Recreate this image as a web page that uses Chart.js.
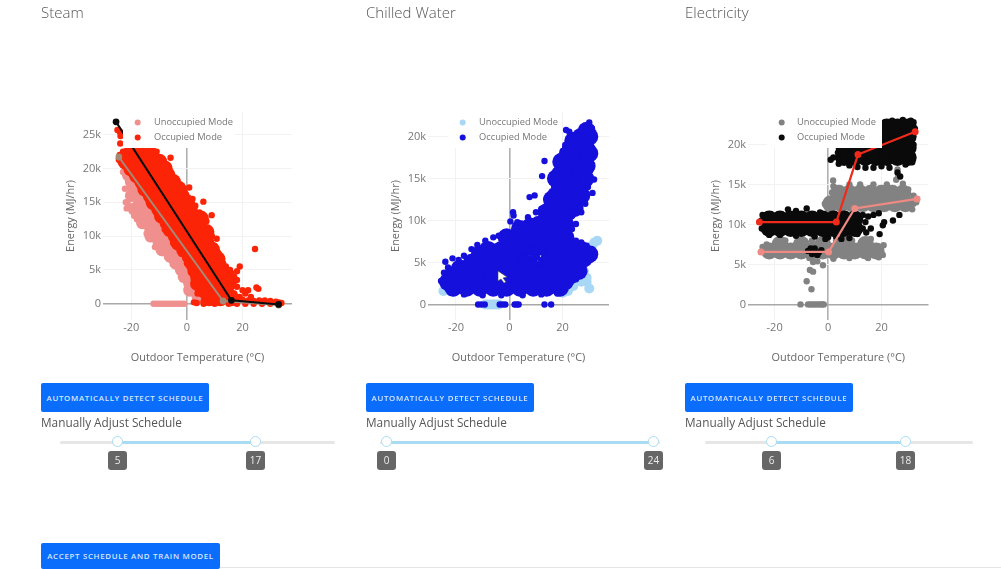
<!DOCTYPE html>
<html><head><meta charset="utf-8">
<script src="https://cdn.jsdelivr.net/npm/chart.js@4"></script>
<style>
html,body{margin:0;padding:0;background:#fff;width:1001px;height:569px;overflow:hidden;font-family:"Open Sans",sans-serif}
#page{position:absolute;left:0;top:0;width:1001px;height:569px;filter:blur(.7px)}
canvas{position:absolute}
.t{position:absolute;color:#666;white-space:nowrap}
.title{font-size:15px;top:2px;font-weight:300;color:#555}
.sub{font-size:11.8px;top:414px;color:#555}
.btn{position:absolute;background:#0a6dfb;color:#d6e6ff;font-size:7.9px;letter-spacing:.68px;text-transform:uppercase;display:flex;align-items:center;justify-content:center;border-radius:2px;white-space:nowrap;font-weight:600}
.track{position:absolute;top:441px;height:3px;background:#e6e6e6;border-radius:2px}
.fill{position:absolute;top:441px;height:3px;background:#a9dcf2}
.knob{position:absolute;top:436px;width:9px;height:9px;border:1.5px solid #a9dcf2;border-radius:50%;background:#fff}
.val{position:absolute;top:451px;width:19px;height:19px;background:#666;color:#eee;font-size:10px;border-radius:3px;text-align:center;line-height:19px}
#rule{position:absolute;left:220px;right:0;top:567px;height:1px;background:#e4e4e4}
</style></head><body><div id="page">
<div class="t title" style="left:41px">Steam</div>
<div class="t title" style="left:366px">Chilled Water</div>
<div class="t title" style="left:685px">Electricity</div>
<canvas id="c0" width="240" height="268" style="left:60px;top:100px"></canvas>
<canvas id="c1" width="233" height="268" style="left:385px;top:100px"></canvas>
<canvas id="c2" width="232" height="268" style="left:705px;top:100px"></canvas>
<div class="btn" style="left:41px;top:383px;width:168px;height:29px">Automatically Detect Schedule</div>
<div class="btn" style="left:366px;top:383px;width:168px;height:29px">Automatically Detect Schedule</div>
<div class="btn" style="left:685px;top:383px;width:168px;height:29px">Automatically Detect Schedule</div>
<div class="t sub" style="left:41px">Manually Adjust Schedule</div>
<div class="t sub" style="left:366px">Manually Adjust Schedule</div>
<div class="t sub" style="left:685px">Manually Adjust Schedule</div>
<div class="track" style="left:60px;width:275px"></div><div class="fill" style="left:117px;width:138px"></div>
<div class="knob" style="left:112px"></div><div class="knob" style="left:250px"></div>
<div class="val" style="left:108px">5</div><div class="val" style="left:246px">17</div>
<div class="track" style="left:380px;width:280px"></div><div class="fill" style="left:386px;width:267px"></div>
<div class="knob" style="left:381px"></div><div class="knob" style="left:648px"></div>
<div class="val" style="left:377px">0</div><div class="val" style="left:644px">24</div>
<div class="track" style="left:705px;width:268px"></div><div class="fill" style="left:771px;width:134px"></div>
<div class="knob" style="left:766px"></div><div class="knob" style="left:900px"></div>
<div class="val" style="left:762px">6</div><div class="val" style="left:896px">18</div>
<div class="btn" style="left:41px;top:543px;width:179px;height:26px">Accept Schedule and Train Model</div>
<div id="rule"></div>
<svg style="position:absolute;left:497px;top:270px" width="12" height="14"><path d="M1 1 L1 11 L4 9 L7 13 L9 12 L6 8 L10 7 Z" fill="#fff" stroke="#444" stroke-width=".6"/></svg>
</div>
<script>
// All temperatures in deg C; energy in thousands of MJ/hr.
const legendLabels = ["Unoccupied Mode", "Occupied Mode"];
const xTickValues = [-20, 0, 20];
const steamYTicks = [0, 5, 10, 15, 20, 25];
const chilledYTicks = [0, 5, 10, 15, 20];
const electricYTicks = [0, 5, 10, 15, 20];

const steamOccDense = [[-21,22],[-17,22],[-13,22],[-22,21],[-18,21],[-14,21],[-10,21],[-20,20],[-16,20],[-11,20],[-8,20],[-18,19],[-15,19],[-11,19],[-7,19],[-16,18],[-13,18],[-8,18],[-5,18],[-15,17],[-12,17],[-7,17],[-3,17],[-13,16],[-10,16],[-5,16],[-2,16],[-12,15],[-9,15],[-4,15],[0,15],[-10,14],[-7,14],[-3,14],[1,14],[-9,13],[-6,13],[-2,13],[2,13],[5,12.6],[-7,12],[-4,12],[0,12],[4,12],[-6,11],[-3,11],[1,11],[5,11],[7,10.6],[-4,10],[-1,10],[3,10],[6,10],[-3,9],[0,9],[4,9],[7,9],[-1,8],[2,8],[6,8],[9,8],[1,7],[3,7],[6,7],[9,7],[11,6.6],[2,6],[4,6],[7,6],[10,6],[3,5],[5,5],[8,5],[11,5],[13,4.6],[4,4],[6,4],[9,4],[12,4],[4,3],[7,3],[10,3],[13,3],[15,3],[6,2],[9,2],[12,2],[14,2],[8,0.8],[12,0.8],[16,0.8]];
const steamOccSparse = [[-10.9,22.5],[-5.9,21.6],[-9.1,21.4],[-12,22.6],[-15,22.7],[-18,22.7],[-21,22.8],[-23,22.5],[-24,23.7],[-24.1,25.4],[-25,25.7],[-23.9,24.8],[-24.2,22],[-24.5,21.3],[-8,20.5],[-6,19.5],[-7,20.2],[-4.5,18.5],[-3.1,17.1],[0.8,17.2],[-1,16.5],[0,15.8],[2,15.5],[3,14.5],[5.9,15.1],[4.5,13.5],[6,13],[7,12.2],[8.9,13.1],[8,11],[9,10],[10.7,9.6],[10,8.5],[11.3,7.5],[12,6.5],[13,6],[14,5.5],[15.5,5],[19,5.5],[18,4.8],[17,4],[16,3],[18,2.5],[20,2],[21,1.5],[24.5,8.1],[25.7,2.2],[25,2.4],[22,2],[23,1],[26,0.5],[28,0.5],[30,0.4],[32,0.3],[33,0.2],[34,0.1],[30,0],[27,0],[24,0],[21,0],[18,0],[15,0],[10,0],[6,0],[3.5,0.1],[2.5,0.2],[3.8,1.5],[4,3.5],[-1,8],[-4,9],[-7,11.5],[-9,13],[-13,15],[-16,17.5],[-19,19],[-22,21],[-20,20.5],[17,1.5],[19,1],[20,0.6],[18,3.5],[16,4.5],[14.5,4],[22,0.5],[24,0.4],[6,0.3],[8,0.2],[-11,13.6],[-8,11],[-5,9],[-2,7.4],[0,6],[1.5,4.6],[-15,16.4],[-18,18.2],[-20,19.2]];
const steamUnoccDense = [[-21,19],[-20,18],[-17,18],[-19,17],[-16,17],[-20,16],[-17,16],[-14,16],[-17,15],[-14,15],[-19,14],[-16,14],[-13,14],[-10,14],[-16,13],[-13,13],[-10,13],[-16,12],[-13,12],[-10,12],[-7,12],[-13,11],[-10,11],[-7,11],[-13,10],[-10,10],[-7,10],[-4,10],[-10,9],[-7,9],[-4,9],[-9,8],[-6,8],[-3,8],[0,8],[-6,7],[-3,7],[0,7],[-4,6],[-1,6],[2,6],[-2,5],[1,5],[4,5],[-1,4],[2,4],[5,4],[1,3],[4,3],[1,2],[3,2],[6,2],[4,1],[7,1],[10,1]];
const steamUnoccSparse = [[-22.3,17],[-22,15],[-21.7,14.1],[-21.3,14.8],[-20,16],[-19,13],[-18,12.5],[-16,11.5],[-14.5,10.4],[-13,10],[-11.5,8.4],[-9,7.5],[-7,7],[-5,6.5],[-2.5,5],[-3,5.2],[-1,4],[0,3],[1,2],[2.3,1.5],[-24,21],[-23,19.5],[-14,13],[9,3],[11,1],[5,4.5],[3.5,6.5],[-12,0],[-11,0],[-10,0],[-9,0],[-8,0],[-7,0],[-6,0],[-5,0],[-4,0],[-3,0],[-2,0],[-1,0]];
const steamOccLineX = [-25.5, 16, 33];
const steamOccLineY = [26.9, 0.5, -0.1];
const steamUnoccLineX = [-24.5, 13, 33];
const steamUnoccLineY = [21.7, 0.4, -0.2];

const chilledOccDense = [[-21,2],[-16,2],[-11,2],[-6,2],[-1,2],[4,2],[9,2],[14,2],[19,2],[-23,2.7],[-18.5,2.8],[-13.5,2.8],[-8.5,2.8],[-3.5,2.8],[1.5,2.8],[6.5,2.8],[11.5,2.8],[16.5,2.8],[21,2.8],[-21,3.5],[-16,3.5],[-11,3.5],[-6,3.5],[-1,3.5],[4,3.5],[9,3.4],[14,3.5],[19,3.5],[23,3.5],[26,4],[-18.5,4.3],[-11.5,4.3],[-6.5,4.3],[-1.5,4.3],[3.5,4],[8,4],[12,4],[17.5,4.3],[22,4.3],[-14,5],[-9,5],[-4,5],[1,5.4],[16,5],[20,5],[25,5.2],[28,5.5],[-11,6],[-6,6],[-1,6.2],[4.5,6.7],[9.5,6.7],[14.5,6.7],[19.5,6.5],[22,6.8],[24,6],[27,6.5],[30,6],[-8,6.5],[-3,6.5],[2,6.8],[7,6.9],[12,6.9],[17,6.5],[1.5,7.8],[6.5,7.8],[11.5,7.8],[16.5,7.8],[21,8],[-1,8],[4,8],[9,8],[14,8],[19,8],[4,9],[8,9.3],[11,9.5],[13,9.5],[16,10],[18,9.5],[21,9.5],[14,11],[18,11],[22,11],[24.5,11.5],[16,12.5],[20,12.5],[23,12.5],[27,13],[17.5,13],[21,13.5],[25,13],[19,14],[23,14],[26,14],[17.5,15],[19,15.5],[23,15.5],[27,15.5],[28.5,15],[19.5,17],[20.5,16],[21,17],[25,17],[28,17],[29,16.5],[22,18],[23,18.5],[27,18.5],[29,18.5],[30,18],[24,19.5],[27,20],[28,20],[30,20],[29,20.7]];
const chilledOccSparse = [[3.6,5.3],[4.6,5.5],[5.4,5.2],[6.6,5.6],[7.6,5.3],[8.8,5.6],[9.4,5.2],[10.4,5.6],[12,5.3],[13,5.6],[13.6,5.2],[4.8,4.9],[7,4.9],[9.6,4.9],[11.6,4.9],[13.2,17.1],[12.3,15.3],[7.6,12.8],[9.5,13],[1.4,11],[1.6,10.6],[0.4,9.9],[21.3,20.8],[22.5,20.6],[30,21.7],[29,21.2],[31,21],[31.8,14.9],[31.2,13.3],[27.5,13],[25,9.6],[-14.2,6.6],[-21.3,5.5],[-24,5.1],[-25.6,2.8],[25,7.6],[-19,5.3],[-17,5.8],[-12,7.1],[-9,7.6],[-6,8],[-4,8.2],[3,9.8],[5,9.6],[7,10.4],[10,11],[12,11.4],[14,12.6],[16,14.6],[18,16],[19,17.6],[21,19],[24,19.8],[26,20],[30.5,18],[31,16.5],[29.5,14],[28.5,12],[27,11],[24,11],[23.5,9],[27,7.4],[29,7],[31,6.6],[30,5.5],[28,7],[-23,4.4],[-24.5,3.8],[-22,1.4],[-17,1.2],[-10,1.1],[-3,1.1],[5,1.1],[12,1.2],[18,1.3],[22,2.2],[25,3],[-11.7,0],[-10.5,0],[-9.2,0],[-3.6,0],[-2.5,0],[-1.5,0],[2,0],[2.8,0],[3.5,0],[13.2,0],[15.7,0]];
const chilledUnoccDense = [[27,2.7],[29,2.7],[24,2.2],[28,4],[30,6.3],[33,7.6],[31,7],[32,7.4],[-24.7,1.6],[-23,1.7],[-21,1.5],[-9,0],[-8,0],[-7,0],[-6,0],[-5,0],[-4,0],[22,1.6],[26,3.4],[29,3.2],[20,1.4],[30,1.9]];
const chilledUnoccSparse = [[15,13],[16,12.7],[17,12.2]];

const electricOccDense = [[18,22.2],[22,22.2],[26,22.2],[30,22.2],[18,21],[22,21],[26,21],[30,21],[6,19.6],[10,19.6],[14,19.6],[18,19.6],[22,19.6],[26,19.6],[30,19.6],[6,18.4],[10,18.4],[14,18.4],[18,18.4],[22,18.4],[26,18.4],[30,18.4],[-22,10.7],[-18,10.7],[-14,10.7],[-10,10.7],[-6,10.7],[-2,10.7],[2,10.7],[6,10.7],[10,10.7],[-22,9.5],[-18,9.5],[-14,9.5],[-10,9.5],[-6,9.5],[-2,9.5],[2,9.5],[6,9.5],[10,9.5]];
const electricOccSparse = [[3.7,19],[4,18.2],[2,18.4],[1,18.1],[4,17.6],[8,17.4],[11,17.2],[14,17.1],[17,17.1],[20,17.3],[23,17.1],[26,16.5],[27,16],[29,17.5],[31.5,17.8],[32,20],[32.5,22],[24,23],[28,23.1],[31,23],[32,22.8],[-24.9,10.5],[-24.8,9.5],[-24.5,11.2],[-15,11.9],[-8,12],[-12,11.7],[-3,11.5],[0,8.4],[-1,8.2],[-5,8.5],[-12,8.6],[-18,8.7],[-22,8.7],[3,8.5],[5,8.2],[8,8.3],[11,8.8],[13,9.5],[14.3,9],[19.3,8.8],[20.5,9.9],[26.7,11.2],[24.3,10.5],[21,10.3],[13,11.2],[15,11],[17,11.2],[19,11.4],[14,10.3],[16,9.5],[-7.5,6.7],[-6,6.3],[-5,7],[-3.5,6.5],[-2.5,6.8],[-6.5,7],[-4,6.2]];
const electricUnoccDense = [[-22,6.7],[-18,6.7],[-14,6.7],[-10,6.7],[-6,6.7],[-2,6.7],[2,6.7],[6,6.7],[10,6.7],[14,6.7],[18,6.7],[-18,7.5],[-10,7.5],[-2,7.5],[6,7.5],[14,7.5],[1,12.6],[5,12.6],[9,12.6],[13,12.6],[17,12.6],[21,12.6],[25,12.6],[29,12.6],[4,13.9],[8,13.9],[12,13.9],[16,13.9],[20,13.9],[24,13.9],[28,13.9]];
const electricUnoccSparse = [[1.9,15.5],[-1.2,12.6],[0,12],[1.5,14],[2,14.8],[26,16.9],[26.3,16],[25.5,15.6],[8,15],[12,15],[17,15],[22,15],[28,15.1],[30,14.4],[32,13.6],[33.3,13.2],[32,12.6],[31.5,11.9],[33,12.8],[-5.6,4.1],[-6.8,4.3],[-8,2.9],[-6.2,1.9],[-1.9,4.9],[-5.6,5.3],[-4,5.4],[-10.3,0],[-7.5,0],[-6.7,0],[-6,0],[-5.2,0],[-4.4,0],[-3.6,0],[-2.8,0],[-2.2,0],[-1.6,0],[20.8,7.4],[20.5,6.2],[19,5.9],[15,5.8],[-25,6.6],[-24.5,7.2],[-23,7.5],[-16,8],[-6,8],[3,8],[9,8],[16,8.2],[-7,5.8],[2,5.7],[8,5.8]];
const electricOccLineX = [-25.7, 3.1, 11.2, 32.6];
const electricOccLineY = [10.3, 10.3, 18.75, 21.6];
const electricUnoccLineX = [-25.1, 0.2, 10, 33.3];
const electricUnoccLineY = [6.57, 6.57, 12, 13.2];

const toPoints = a => a.map(([x, k]) => ({x, y: k * 1000}));
const zip = (xs, ys) => xs.map((x, i) => ({x, y: ys[i] * 1000}));

const legendPlugin = {
  id: 'insetLegend',
  afterDatasetsDraw(chart, _a, o) {
    const c = chart.ctx;
    c.save();
    c.fillStyle = '#fff';
    c.fillRect(o.left, 12, o.width, 36);
    c.font = '9.3px "Open Sans"';
    c.textBaseline = 'middle';
    chart.data.datasets.slice(0, 2).forEach((d, i) => {
      const y = 22.5 + i * 15;
      c.fillStyle = d.backgroundColor;
      c.beginPath(); c.arc(o.dotX, y, 3, 0, Math.PI * 2); c.fill();
      c.fillStyle = '#777';
      c.fillText(d.label, o.textX, y);
    });
    c.restore();
  }
};

function panel(id, cfg) {
  const cloud = (label, color, dense, sparse, denseR, order) => ({
    type: 'scatter', label, order,
    data: [...toPoints(dense), ...toPoints(sparse)],
    backgroundColor: color, borderColor: color, borderWidth: 0,
    pointRadius: ctx => ctx.dataIndex < dense.length ? denseR : 3.2,
    pointHoverRadius: 3, showLine: false
  });
  const fit = (xs, ys, color, order) => ({
    type: 'scatter', label: '', order, data: zip(xs, ys), showLine: true,
    borderColor: color, backgroundColor: color, borderWidth: cfg.lineW,
    pointRadius: 2.4, tension: 0
  });
  new Chart(document.getElementById(id), {
    data: { datasets: [
      cloud(legendLabels[0], cfg.unoccColor, cfg.unoccDense, cfg.unoccSparse, cfg.unoccR, 4),
      cloud(legendLabels[1], cfg.occColor, cfg.occDense, cfg.occSparse, cfg.occR, 3),
      ...(cfg.unoccLine ? [fit(cfg.unoccLine[0], cfg.unoccLine[1], cfg.unoccLineColor, 2),
                           fit(cfg.occLine[0], cfg.occLine[1], cfg.occLineColor, 1)] : [])
    ]},
    options: {
      responsive: false, animation: false, devicePixelRatio: 1,
      layout: { padding: { top: 12, right: cfg.right, left: 0, bottom: 0 } },
      plugins: { legend: { display: false }, tooltip: { enabled: false }, insetLegend: cfg.legend },
      scales: {
        x: {
          type: 'linear', min: cfg.xMin, max: cfg.xMax,
          afterFit: s => { s.height = 48; },
          afterBuildTicks: s => { s.ticks = xTickValues.map(value => ({value})); },
          ticks: { color: '#777', font: { size: 11, family: 'Open Sans' }, padding: 1, maxRotation: 0 },
          grid: { drawTicks: false, color: c => c.tick.value === 0 ? '#b0b0b0' : '#f2f2f2', lineWidth: c => c.tick.value === 0 ? 1.6 : 1 },
          border: { display: false },
          title: { display: true, text: 'Outdoor Temperature (°C)', color: '#666', font: { size: 10.9, family: 'Open Sans' }, padding: { top: 0, bottom: 3.5 } }
        },
        y: {
          type: 'linear', min: cfg.yMin, max: cfg.yMax,
          afterFit: s => { s.width = 43; },
          afterBuildTicks: s => { s.ticks = cfg.yTicks.map(v => ({value: v * 1000})); },
          ticks: { color: '#777', font: { size: 11, family: 'Open Sans' }, padding: 2, callback: v => v === 0 ? '0' : (v / 1000) + 'k' },
          grid: { drawTicks: false, color: c => c.tick.value === 0 ? '#a8a8a8' : '#f2f2f2', lineWidth: c => c.tick.value === 0 ? 1.6 : 1 },
          border: { display: false },
          title: { display: true, text: 'Energy (MJ/hr)', color: '#666', font: { size: 10.9, family: 'Open Sans' }, padding: { top: 4, bottom: 0 } }
        }
      }
    },
    plugins: [legendPlugin]
  });
}

panel('c0', { right: 8, xMin: -30.2, xMax: 37.8, yMin: -2410, yMax: 28360, yTicks: steamYTicks, lineW: 2,
  unoccColor: '#f0908e', occColor: '#fb2406', unoccR: 6.5, occR: 8,
  unoccDense: steamUnoccDense, unoccSparse: steamUnoccSparse, occDense: steamOccDense, occSparse: steamOccSparse,
  unoccLine: [steamUnoccLineX, steamUnoccLineY], occLine: [steamOccLineX, steamOccLineY],
  unoccLineColor: '#a58a78', occLineColor: '#0c0c0c',
  legend: { left: 63, width: 112, dotX: 77.7, textX: 94 } });
panel('c1', { right: 8, xMin: -30.5, xMax: 37.4, yMin: -1850, yMax: 22940, yTicks: chilledYTicks, lineW: 0,
  unoccColor: '#a8d8f5', occColor: '#1610dc', unoccR: 5, occR: 9,
  unoccDense: chilledUnoccDense, unoccSparse: chilledUnoccSparse, occDense: chilledOccDense, occSparse: chilledOccSparse,
  legend: { left: 63, width: 114, dotX: 77.7, textX: 94 } });
panel('c2', { right: 8, xMin: -29.96, xMax: 37.6, yMin: -1950, yMax: 24080, yTicks: electricYTicks, lineW: 2.2,
  unoccColor: '#828282', occColor: '#0a0a0a', unoccR: 8.5, occR: 8.5,
  unoccDense: electricUnoccDense, unoccSparse: electricUnoccSparse, occDense: electricOccDense, occSparse: electricOccSparse,
  unoccLine: [electricUnoccLineX, electricUnoccLineY], occLine: [electricOccLineX, electricOccLineY],
  unoccLineColor: '#ee8a84', occLineColor: '#f02a1a',
  legend: { left: 62, width: 115, dotX: 76.7, textX: 92 } });
</script></body></html>
